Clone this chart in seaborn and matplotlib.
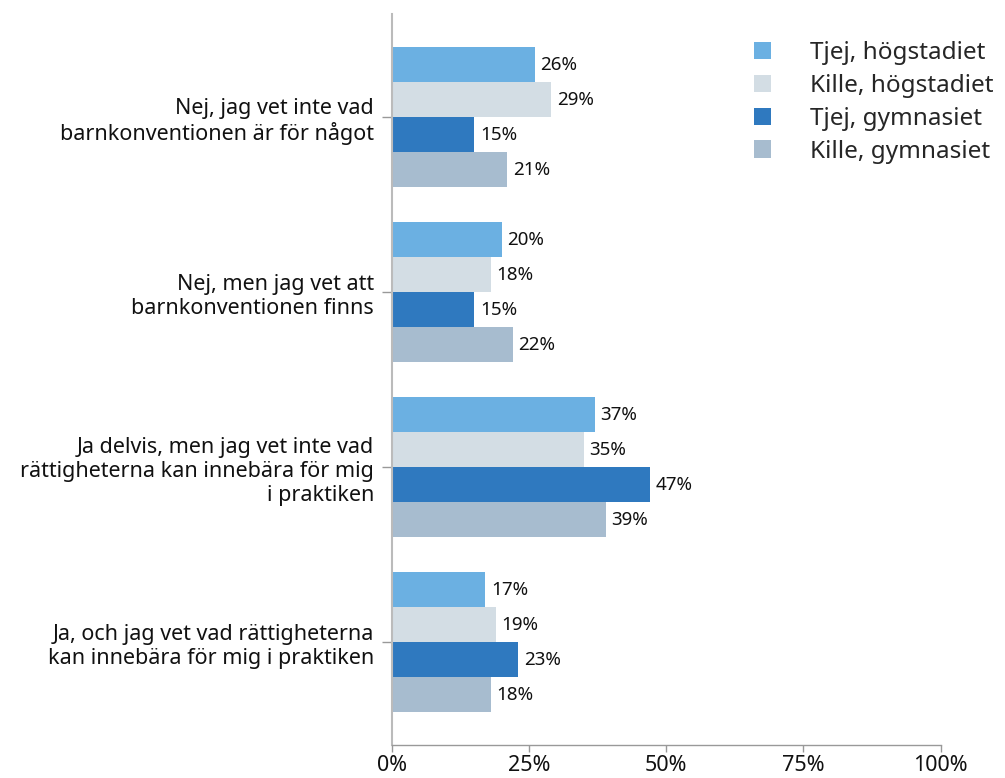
import pandas as pd
import matplotlib
matplotlib.use("Agg")
import matplotlib.pyplot as plt
import seaborn as sns

# ------------------------------
# Data
# ------------------------------
answers = [
    "Nej, jag vet inte vad\nbarnkonventionen är för något",
    "Nej, men jag vet att\nbarnkonventionen finns",
    "Ja delvis, men jag vet inte vad\nrättigheterna kan innebära för mig\ni praktiken",
    "Ja, och jag vet vad rättigheterna\nkan innebära för mig i praktiken",
]
groups = ["Tjej, högstadiet", "Kille, högstadiet", "Tjej, gymnasiet", "Kille, gymnasiet"]
tjej_hog = [26, 20, 37, 17]
kille_hog = [29, 18, 35, 19]
tjej_gym = [15, 15, 47, 23]
kille_gym = [21, 22, 39, 18]
colors = ["#6BB0E2", "#D3DDE4", "#2F79BF", "#A7BCCF"]
xticks = [0, 25, 50, 75, 100]

rows = []
for g, vals in zip(groups, [tjej_hog, kille_hog, tjej_gym, kille_gym]):
    for a, v in zip(answers, vals):
        rows.append({"Svar": a, "Grupp": g, "Andel": v})
df = pd.DataFrame(rows)

# ------------------------------
# Plot
# ------------------------------
sns.set_style("white")
plt.rcParams["font.family"] = ["Noto Sans", "DejaVu Sans"]

fig = plt.figure(figsize=(10.05, 7.78), dpi=100)
ax = fig.add_axes([0.390, 0.042, 0.546, 0.940])

sns.barplot(data=df, y="Svar", x="Andel", hue="Grupp", hue_order=groups,
            order=answers, palette=colors, orient="h", width=0.8,
            saturation=1, linewidth=0, ax=ax)

for cont in ax.containers:
    ax.bar_label(cont, fmt="%d%%", padding=4, fontsize=13.5, color="#111111")

ax.set_xlim(0, 100)
ax.set_ylim(3.59, -0.59)
ax.set_xticks(xticks)
ax.set_xticklabels([f"{t}%" for t in xticks], fontsize=15.5, color="#111111")
ax.set_xlabel("")
ax.set_ylabel("")
for lbl in ax.get_yticklabels():
    lbl.set_fontsize(15.5)
    lbl.set_linespacing(1.2)
    lbl.set_color("#111111")

sns.despine(ax=ax, top=True, right=True)
ax.spines["left"].set_color("#bbbbbb")
ax.spines["left"].set_linewidth(1.5)
ax.spines["bottom"].set_color("#999999")
ax.spines["bottom"].set_linewidth(1)
ax.tick_params(axis="x", length=5, color="#999999", width=1, pad=2, bottom=True)
ax.tick_params(axis="y", length=7, color="#999999", width=1, pad=6, left=True)

sns.move_legend(ax, "upper left", bbox_to_anchor=(0.728, 0.975),
                bbox_transform=fig.transFigure, frameon=False, title=None,
                fontsize=17.5, handlelength=0.72, handleheight=0.72,
                handletextpad=1.6, labelspacing=0.36)

fig.savefig("out.png", dpi=100)
